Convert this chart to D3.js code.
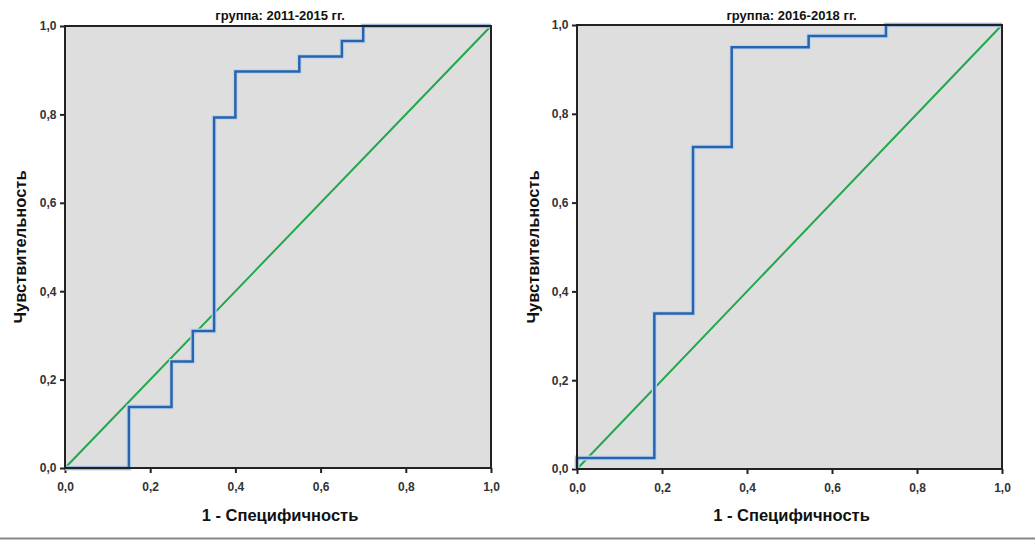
<!DOCTYPE html>
<html><head><meta charset="utf-8">
<script src="https://cdn.jsdelivr.net/npm/d3@7"></script>
<style>body{margin:0;background:#fff}svg{display:block}</style>
</head><body>
<svg id="c" width="1035" height="540"></svg>
<script>
const ticks = [0, 0.2, 0.4, 0.6, 0.8, 1.0];
const tickLabels = ["0,0", "0,2", "0,4", "0,6", "0,8", "1,0"];
const titles = ["группа: 2011-2015 гг.", "группа: 2016-2018 гг."];
const xTitle = "1 - Специфичность";
const yTitle = "Чувствительность";
// ROC step points (1 - specificity, sensitivity)
const roc1x = [0, 0.15, 0.15, 0.25, 0.25, 0.30, 0.30, 0.35, 0.35, 0.40, 0.40, 0.55, 0.55, 0.65, 0.65, 0.70, 0.70, 1.0];
const roc1y = [0, 0, 0.138, 0.138, 0.241, 0.241, 0.310, 0.310, 0.793, 0.793, 0.897, 0.897, 0.931, 0.931, 0.966, 0.966, 1.0, 1.0];
const roc2x = [0, 0, 0.182, 0.182, 0.273, 0.273, 0.364, 0.364, 0.545, 0.545, 0.727, 0.727, 1.0];
const roc2y = [0, 0.025, 0.025, 0.35, 0.35, 0.725, 0.725, 0.95, 0.95, 0.975, 0.975, 1.0, 1.0];
const refLine = [0, 1];

const svg = d3.select("#c");
const panels = [
  {x0: 65, x1: 491, y0: 26, y1: 468, rx: roc1x, ry: roc1y, title: titles[0], ylx: 20},
  {x0: 577, x1: 1002, y0: 25, y1: 469, rx: roc2x, ry: roc2y, title: titles[1], ylx: 533}
];
const font = "'Liberation Sans', Arial, sans-serif";

panels.forEach(p => {
  const x = d3.scaleLinear().domain([0, 1]).range([p.x0, p.x1]);
  const y = d3.scaleLinear().domain([0, 1]).range([p.y1, p.y0]);
  const g = svg.append("g");
  g.append("rect").attr("x", p.x0).attr("y", p.y0).attr("width", p.x1 - p.x0).attr("height", p.y1 - p.y0)
    .attr("fill", "#dedede");
  const fmt = d => tickLabels[ticks.indexOf(d)];
  const ax = g.append("g").attr("transform", `translate(0,${p.y1})`)
    .call(d3.axisBottom(x).tickValues(ticks).tickFormat(fmt).tickSize(5).tickSizeOuter(0));
  const ay = g.append("g").attr("transform", `translate(${p.x0},0)`)
    .call(d3.axisLeft(y).tickValues(ticks).tickFormat(fmt).tickSize(5).tickSizeOuter(0));
  [ax, ay].forEach(a => {
    a.select(".domain").remove();
    a.selectAll("line").attr("stroke", "#222").attr("stroke-width", 2);
    a.selectAll("text").attr("fill", "#333").style("font-family", font).style("font-size", "12px").style("font-weight", "bold");
  });
  ax.selectAll("text").attr("y", 12).attr("dy", "0.9em");
  ay.selectAll("text").attr("dx", "-0.05em");
  // reference diagonal
  g.append("path").attr("d", d3.line().x(d => x(d)).y(d => y(d))(refLine))
    .attr("stroke", "#1fa84a").attr("stroke-width", 2).attr("fill", "none");
  // ROC curve
  const pts = p.rx.map((v, i) => [v, p.ry[i]]);
  g.append("path").attr("d", d3.line().x(d => x(d[0])).y(d => y(d[1]))(pts))
    .attr("stroke", "#c4d6ec").attr("stroke-width", 5).attr("fill", "none").attr("stroke-linejoin", "miter");
  g.append("path").attr("d", d3.line().x(d => x(d[0])).y(d => y(d[1]))(pts))
    .attr("stroke", "#2764ae").attr("stroke-width", 2.5).attr("fill", "none").attr("stroke-linejoin", "miter");
  // frame
  g.append("rect").attr("x", p.x0).attr("y", p.y0).attr("width", p.x1 - p.x0).attr("height", p.y1 - p.y0)
    .attr("fill", "none").attr("stroke", "#222").attr("stroke-width", 2);
  // titles
  g.append("text").attr("x", (p.x0 + p.x1) / 2 + 2).attr("y", 20).attr("text-anchor", "middle")
    .style("font-family", "'Liberation Sans Narrow', " + font).style("font-size", "13px").style("font-weight", "bold")
    .attr("fill", "#111").text(p.title);
  g.append("text").attr("x", (p.x0 + p.x1) / 2 + 2).attr("y", 521).attr("text-anchor", "middle")
    .style("font-family", font).style("font-size", "16.5px").style("font-weight", "bold")
    .attr("fill", "#111").text(xTitle);
  g.append("text").attr("transform", `translate(${p.ylx},${(p.y0 + p.y1) / 2}) rotate(-90)`)
    .attr("text-anchor", "middle").attr("dy", "0.35em")
    .style("font-family", font).style("font-size", "16.5px").style("font-weight", "bold")
    .attr("fill", "#111").text(yTitle);
});
svg.append("line").attr("x1", 0).attr("x2", 1035).attr("y1", 538.5).attr("y2", 538.5)
  .attr("stroke", "#888").attr("stroke-width", 2);
</script>
</body></html>
